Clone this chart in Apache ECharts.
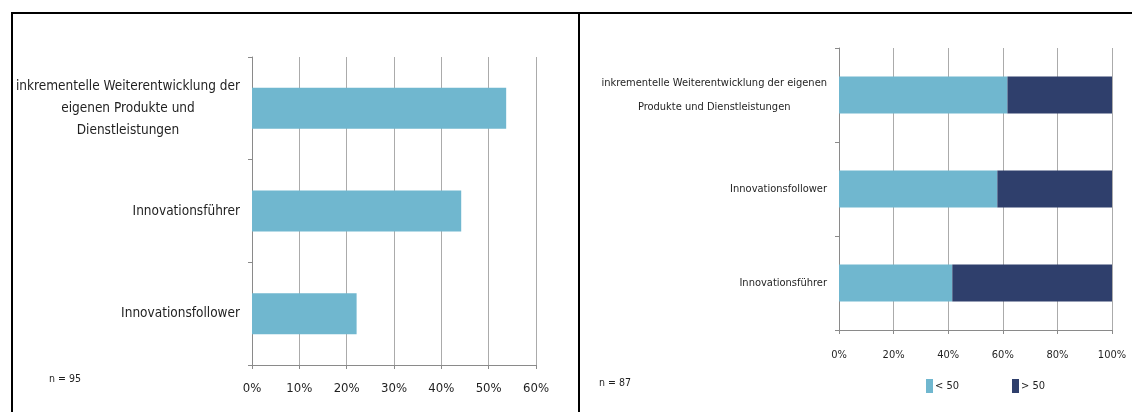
<!DOCTYPE html>
<html>
<head>
<meta charset="utf-8">
<script src="https://cdn.jsdelivr.net/npm/echarts@6/dist/echarts.min.js"></script>
<style>
  html, body { margin: 0; padding: 0; background: #ffffff; }
  #chart { width: 1132px; height: 412px; }
</style>
</head>
<body>
<div id="chart"></div>
<script>
// Innovationsstrategie (Anteil der Unternehmen, n = 95)
const strategyCategories = [
  'inkrementelle Weiterentwicklung der\neigenen Produkte und\nDienstleistungen',
  'Innovationsführer',
  'Innovationsfollower'
];
const strategyShare = [53.7, 44.2, 22.1];

// Innovationsstrategie nach Unternehmensgröße (n = 87)
const sizeCategories = [
  'inkrementelle Weiterentwicklung der eigenen\nProdukte und Dienstleistungen',
  'Innovationsfollower',
  'Innovationsführer'
];
const sizeBelow50 = [61.7, 58.0, 41.5];
const sizeAbove50 = [38.3, 42.0, 58.5];
const sizeSeriesNames = ['< 50', '> 50'];

// Achsenbereiche
const leftAxisMax = 60, leftAxisStep = 10;
const rightAxisMax = 100, rightAxisStep = 20;

const FONT = '"DejaVu Sans Condensed", "Liberation Sans Narrow", "Open Sans", sans-serif';
const TEXT = '#1f1f1f';
const AXIS = '#8a8a8a';
const GRID = '#ababab';
const LIGHT = '#70b7cf';
const DARK = '#2f3f6c';

// multi-line category names: each line centred within the label block
function centredLines(value) {
  if (value.indexOf('\n') < 0) return value;
  return value.split('\n').map(function (l) { return '{c|' + l + '}'; }).join('\n');
}

function valueAxis(gridIndex, max, step, fontSize, margin) {
  return {
    type: 'value', gridIndex: gridIndex, min: 0, max: max, interval: step,
    axisLine: { show: true, lineStyle: { color: AXIS, width: 1 } },
    axisTick: { show: true, length: 4, lineStyle: { color: AXIS } },
    splitLine: { show: true, lineStyle: { color: GRID, width: 1 } },
    axisLabel: { formatter: '{value}%', color: TEXT, fontFamily: FONT, fontSize: fontSize, margin: margin }
  };
}

function categoryAxis(gridIndex, data, fontSize, lineHeight) {
  return {
    type: 'category', gridIndex: gridIndex, data: data, inverse: true,
    axisLine: { show: true, lineStyle: { color: AXIS, width: 1 } },
    axisTick: { show: true, length: 4, lineStyle: { color: AXIS } },
    axisLabel: {
      color: TEXT, fontFamily: FONT, fontSize: fontSize, lineHeight: lineHeight, margin: 12,
      formatter: centredLines,
      rich: { c: { align: 'center', color: TEXT, fontFamily: FONT, fontSize: fontSize, lineHeight: lineHeight } }
    }
  };
}

const chart = echarts.init(document.getElementById('chart'), null, { renderer: 'canvas' });

chart.setOption({
  animation: false,
  backgroundColor: '#ffffff',
  grid: [
    { left: 252, top: 57, width: 284, height: 308, containLabel: false, outerBoundsMode: 'none' },
    { left: 839, top: 48, width: 273, height: 282, containLabel: false, outerBoundsMode: 'none' }
  ],
  xAxis: [
    valueAxis(0, leftAxisMax, leftAxisStep, 13, 17),
    valueAxis(1, rightAxisMax, rightAxisStep, 11, 20)
  ],
  yAxis: [
    categoryAxis(0, strategyCategories, 13.5, 22),
    categoryAxis(1, sizeCategories, 11, 24)
  ],
  legend: {
    data: sizeSeriesNames,
    left: 926, top: 379, padding: 0,
    icon: 'rect', itemWidth: 7, itemHeight: 14, itemGap: 53,
    textStyle: { color: TEXT, fontFamily: FONT, fontSize: 11, padding: [0, 0, 0, -3] }
  },
  series: [
    {
      type: 'bar', xAxisIndex: 0, yAxisIndex: 0, data: strategyShare,
      barWidth: 41, itemStyle: { color: LIGHT }, silent: true
    },
    {
      name: sizeSeriesNames[0], type: 'bar', stack: 'size', xAxisIndex: 1, yAxisIndex: 1,
      data: sizeBelow50, barWidth: 37, itemStyle: { color: LIGHT }, silent: true
    },
    {
      name: sizeSeriesNames[1], type: 'bar', stack: 'size', xAxisIndex: 1, yAxisIndex: 1,
      data: sizeAbove50, barWidth: 37, itemStyle: { color: DARK }, silent: true
    }
  ],
  graphic: [
    // panel frame
    { type: 'line', shape: { x1: 11, y1: 13, x2: 1132, y2: 13 }, style: { stroke: '#000', lineWidth: 2 } },
    { type: 'line', shape: { x1: 12, y1: 12, x2: 12, y2: 412 }, style: { stroke: '#000', lineWidth: 2 } },
    { type: 'line', shape: { x1: 579, y1: 12, x2: 579, y2: 412 }, style: { stroke: '#000', lineWidth: 2 } },
    // sample sizes
    { type: 'text', left: 49, top: 374, style: { text: 'n = 95', fill: TEXT, font: '10.5px ' + FONT } },
    { type: 'text', left: 599, top: 378, style: { text: 'n = 87', fill: TEXT, font: '10.5px ' + FONT } }
  ]
});
</script>
</body>
</html>
